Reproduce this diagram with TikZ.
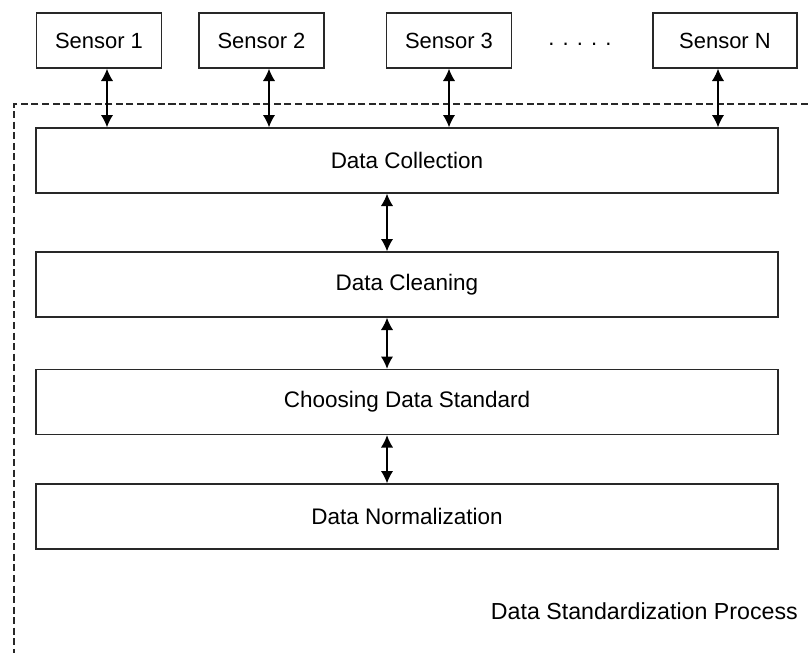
\documentclass[tikz,border=0pt]{standalone}
\usepackage{fontspec}
\setmainfont{Liberation Sans}
\usepackage{tikz}
\usetikzlibrary{arrows.meta}
\definecolor{boxline}{RGB}{40,40,40}

\begin{document}
\begin{tikzpicture}[x=0.02cm,y=-0.02cm,
    sensorbox/.style={draw=boxline,line width=0.8pt,minimum width=2.5cm,minimum height=1.1cm,inner sep=0pt,font=\fontsize{12.5}{14}\selectfont},
    stagebox/.style={draw=boxline,line width=0.8pt,minimum width=14.84cm,minimum height=1.3cm,inner sep=0pt,font=\fontsize{12.8}{14}\selectfont},
    link/.style={line width=0.8pt,{Latex[length=7pt,width=7pt]}-{Latex[length=7pt,width=7pt]}}]
  \useasboundingbox (0,0) rectangle (808,653);
  % sensors
  \node[sensorbox] (s1) at (99,40.5) {Sensor 1};
  \node[sensorbox] (s2) at (261.5,40.5) {Sensor 2};
  \node[sensorbox] (s3) at (449,40.5) {Sensor 3};
  \node[sensorbox,minimum width=2.88cm] (sn) at (725,40.5) {Sensor N};
  \node[font=\fontsize{12.5}{14}\selectfont] (dots) at (580,44) {. . . . .};
  % dashed frame
  \coordinate (fr) at (808,104);
  \coordinate (fl) at (14,104);
  \coordinate (fb) at (14,653);
  \draw[boxline,line width=0.8pt,dash pattern=on 4pt off 2pt] (fr) -- (fl) -- (fb);
  % stages
  \node[stagebox] (coll) at (407,160.5) {Data Collection};
  \node[stagebox] (clean) at (407,284.5) {Data Cleaning};
  \node[stagebox] (std) at (407,402) {Choosing Data Standard};
  \node[stagebox] (norm) at (407,516.5) {Data Normalization};
  \node[anchor=east,font=\fontsize{13.2}{15}\selectfont] (title) at (804,611) {Data Standardization Process};
  % links
  \draw[link] ([xshift=0.16cm]s1.south) -- ([xshift=0.16cm]s1.south |- coll.north);
  \draw[link] ([xshift=0.15cm]s2.south) -- ([xshift=0.15cm]s2.south |- coll.north);
  \draw[link] (s3.south) -- (s3.south |- coll.north);
  \draw[link] ([xshift=-0.14cm]sn.south) -- ([xshift=-0.14cm]sn.south |- coll.north);
  \draw[link] ([xshift=-0.4cm]coll.south) -- ([xshift=-0.4cm]clean.north);
  \draw[link] ([xshift=-0.4cm]clean.south) -- ([xshift=-0.4cm]std.north);
  \draw[link] ([xshift=-0.4cm]std.south) -- ([xshift=-0.4cm]norm.north);
\end{tikzpicture}
\end{document}
